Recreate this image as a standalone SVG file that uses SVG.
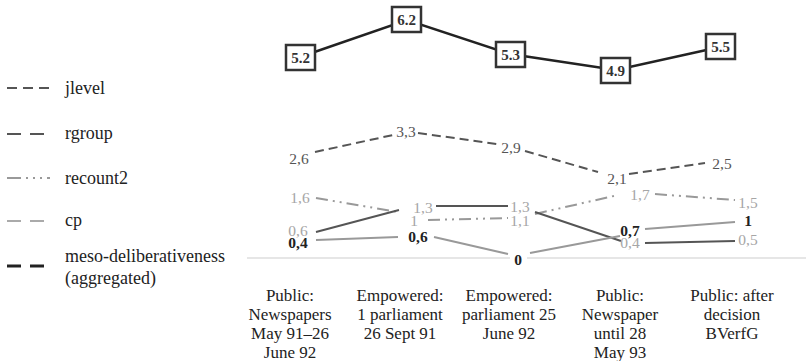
<svg xmlns="http://www.w3.org/2000/svg" width="806" height="361" viewBox="0 0 806 361">
  <style>
    text { font-family: "Liberation Serif", "Times New Roman", Times, Tinos, "Noto Serif", "DejaVu Serif", FreeSerif, serif; }
    .leg { font-size: 18px; fill: #222; }
    .cat { font-size: 17px; fill: #222; text-anchor: middle; }
    .num { font-size: 15.5px; text-anchor: middle; }
    .dk { fill: #555; }
    .lt { fill: #a6a6a6; }
    .bd { fill: #222; font-weight: bold; }
    .box { fill: #fff; stroke: #333; stroke-width: 2.5; }
    .boxt { font-size: 15px; font-weight: bold; fill: #333; text-anchor: middle; }
    .jlevel { fill: none; stroke: #555; stroke-width: 2; stroke-dasharray: 9 5; }
    .rgroup { fill: none; stroke: #555; stroke-width: 2; }
    .recount { fill: none; stroke: #999; stroke-width: 2; stroke-dasharray: 12 5 2 5 2 5; }
    .cp { fill: none; stroke: #999; stroke-width: 2; }
    .meso { fill: none; stroke: #222; stroke-width: 2.5; }
  </style>

  <!-- legend -->
  <g id="legend">
    <g id="leg-jlevel">
      <line x1="7" y1="88" x2="49" y2="88" stroke="#555" stroke-width="2" stroke-dasharray="10 6"/>
      <text class="leg" x="65" y="94">jlevel</text>
    </g>
    <g id="leg-rgroup">
      <line x1="7" y1="134" x2="47" y2="134" stroke="#555" stroke-width="2" stroke-dasharray="14 9"/>
      <text class="leg" x="65" y="139">rgroup</text>
    </g>
    <g id="leg-recount2">
      <line x1="7" y1="178" x2="50" y2="178" stroke="#999" stroke-width="2" stroke-dasharray="14 5 2 5 2 5 2 5"/>
      <text class="leg" x="65" y="184">recount2</text>
    </g>
    <g id="leg-cp">
      <line x1="7" y1="221" x2="47" y2="221" stroke="#aaa" stroke-width="2" stroke-dasharray="14 9"/>
      <text class="leg" x="65" y="226">cp</text>
    </g>
    <g id="leg-meso">
      <line x1="7" y1="266" x2="47" y2="266" stroke="#222" stroke-width="3" stroke-dasharray="14 9"/>
      <text class="leg" x="65" y="262">meso-deliberativeness</text>
      <text class="leg" x="65" y="284">(aggregated)</text>
    </g>
  </g>

  <!-- axis baseline -->
  <g id="axis">
    <line x1="247" y1="258" x2="510" y2="258" stroke="#e6e6e6" stroke-width="2"/>
    <line x1="527" y1="258" x2="806" y2="258" stroke="#e6e6e6" stroke-width="2"/>
  </g>

  <!-- connectors -->
  <g id="connectors">
    <polyline class="meso" points="300,57 407,20 510,54 616,70 720,47"/>
    <path class="jlevel" d="M315,152 L393,135 M418,133 L497,144 M525,151 L598,172 M629,174 L705,163"/>
    <path class="recount" d="M316,198 L398,212 M428,220 L508,218 M535,214 L618,195 M655,194 L735,200"/>
    <path class="rgroup" d="M316,232 L399,210 M436,206 L508,206 M535,212 L621,241 M645,243 L735,241"/>
    <path class="cp" d="M316,240 L398,237 M434,237 L508,254 M530,253 L620,236 M645,229 L735,222"/>
  </g>

  <!-- meso-deliberativeness boxes -->
  <g id="m1"><rect class="box" x="286" y="45" width="29" height="25"/><text class="boxt" x="300.5" y="63">5.2</text></g>
  <g id="m2"><rect class="box" x="392" y="7" width="29" height="25"/><text class="boxt" x="406.5" y="25">6.2</text></g>
  <g id="m3"><rect class="box" x="496" y="42" width="29" height="25"/><text class="boxt" x="510.5" y="60">5.3</text></g>
  <g id="m4"><rect class="box" x="601" y="58" width="29" height="25"/><text class="boxt" x="615.5" y="76">4.9</text></g>
  <g id="m5"><rect class="box" x="706" y="34" width="29" height="25"/><text class="boxt" x="720.5" y="52">5.5</text></g>

  <!-- jlevel values -->
  <g id="jlevel-values">
    <text class="num dk" x="299" y="164">2,6</text>
    <text class="num dk" x="406" y="137">3,3</text>
    <text class="num dk" x="511" y="153">2,9</text>
    <text class="num dk" x="617" y="184">2,1</text>
    <text class="num dk" x="722" y="169">2,5</text>
  </g>

  <!-- recount2 values -->
  <g id="recount2-values">
    <text class="num lt" x="300" y="203">1,6</text>
    <text class="num lt" x="414" y="226">1</text>
    <text class="num lt" x="520" y="226">1,1</text>
    <text class="num lt" x="640" y="200">1,7</text>
    <text class="num lt" x="748" y="208">1,5</text>
  </g>

  <!-- rgroup values -->
  <g id="rgroup-values">
    <text class="num lt" x="298" y="236">0,6</text>
    <text class="num lt" x="423" y="213">1,3</text>
    <text class="num lt" x="520" y="212">1,3</text>
    <text class="num lt" x="630" y="248">0,4</text>
    <text class="num lt" x="748" y="245">0,5</text>
  </g>

  <!-- cp values -->
  <g id="cp-values">
    <text class="num bd" x="298" y="248">0,4</text>
    <text class="num bd" x="418" y="242">0,6</text>
    <text class="num bd" x="518" y="265">0</text>
    <text class="num bd" x="630" y="236">0,7</text>
    <text class="num bd" x="748" y="226">1</text>
  </g>

  <!-- category labels -->
  <g id="categories">
    <g id="cat1">
      <text class="cat" x="290" y="301">Public:</text>
      <text class="cat" x="290" y="320">Newspapers</text>
      <text class="cat" x="290" y="339">May 91–26</text>
      <text class="cat" x="290" y="358">June 92</text>
    </g>
    <g id="cat2">
      <text class="cat" x="400" y="301">Empowered:</text>
      <text class="cat" x="400" y="320">1 parliament</text>
      <text class="cat" x="400" y="339">26 Sept 91</text>
    </g>
    <g id="cat3">
      <text class="cat" x="509" y="301">Empowered:</text>
      <text class="cat" x="509" y="320">parliament 25</text>
      <text class="cat" x="509" y="339">June 92</text>
    </g>
    <g id="cat4">
      <text class="cat" x="620" y="301">Public:</text>
      <text class="cat" x="620" y="320">Newspaper</text>
      <text class="cat" x="620" y="339">until 28</text>
      <text class="cat" x="620" y="358">May 93</text>
    </g>
    <g id="cat5">
      <text class="cat" x="732" y="301">Public: after</text>
      <text class="cat" x="732" y="320">decision</text>
      <text class="cat" x="732" y="339">BVerfG</text>
    </g>
  </g>
</svg>
